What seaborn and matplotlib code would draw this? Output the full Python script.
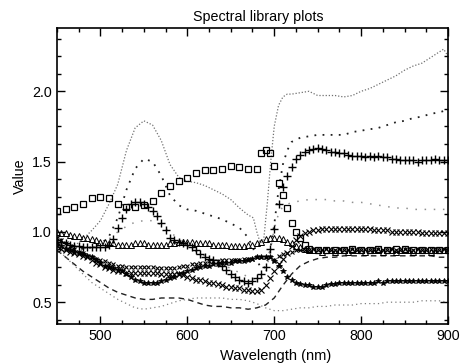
import numpy as np
import pandas as pd
import matplotlib
matplotlib.use("Agg")
import matplotlib.pyplot as plt
import seaborn as sns
from matplotlib.ticker import MultipleLocator

# ---------------- data ----------------
TITLE = "Spectral library plots"
XLABEL = "Wavelength (nm)"
YLABEL = "Value"

# fine dotted curve (green peak ~1.8, high NIR ~2.3)
wl_veg1 = [450,460,470,480,490,500,510,520,530,540,550,560,570,580,590,600,610,620,630,640,650,660,670,676,680,684,688,692,696,700,705,710,715,720,730,740,750,760,770,780,790,800,810,820,830,840,850,860,870,880,890,895,900]
val_veg1 = [0.86,0.87,0.90,0.95,1.01,1.08,1.20,1.34,1.58,1.74,1.79,1.76,1.65,1.48,1.39,1.36,1.35,1.33,1.30,1.27,1.23,1.17,1.12,1.10,1.00,0.92,0.95,1.20,1.50,1.75,1.90,1.96,1.98,1.98,1.99,2.00,1.97,1.97,1.97,1.96,1.97,2.00,2.02,2.05,2.08,2.11,2.15,2.18,2.20,2.24,2.28,2.30,2.25]

# larger-dot curve (peak ~1.5, NIR ~1.87)
wl_veg2 = [450,460,470,480,490,500,510,520,530,540,550,560,570,580,590,600,610,620,630,640,650,660,670,676,680,685,690,695,700,705,710,715,720,730,740,750,760,770,780,790,800,810,820,830,840,850,860,870,880,890,900]
val_veg2 = [0.90,0.89,0.88,0.88,0.89,0.91,0.97,1.10,1.30,1.45,1.52,1.50,1.40,1.26,1.19,1.16,1.15,1.13,1.11,1.09,1.06,1.03,0.96,0.88,0.80,0.74,0.75,0.86,1.05,1.30,1.48,1.58,1.64,1.67,1.68,1.69,1.69,1.69,1.69,1.71,1.72,1.73,1.74,1.76,1.78,1.79,1.81,1.82,1.84,1.85,1.87]

# sparse light dots (peak ~1.08, NIR ~1.2)
wl_veg3 = [450,460,470,480,490,500,510,520,530,540,550,560,570,580,590,600,610,620,630,640,650,660,670,680,685,690,695,700,705,710,720,730,740,750,760,770,780,790,800,810,820,830,840,850,860,870,880,890,900]
val_veg3 = [0.90,0.89,0.88,0.88,0.89,0.91,0.95,1.00,1.04,1.07,1.08,1.08,1.05,1.00,0.95,0.90,0.86,0.83,0.80,0.77,0.74,0.71,0.68,0.66,0.66,0.70,0.85,1.02,1.13,1.18,1.21,1.22,1.23,1.23,1.23,1.22,1.22,1.21,1.21,1.20,1.19,1.18,1.17,1.17,1.16,1.16,1.16,1.16,1.16]

# dashed curve
wl_dash = [450,460,470,480,490,500,510,520,530,540,550,560,570,580,590,600,610,620,630,640,650,660,670,680,690,700,710,720,730,740,750,760,770,780,790,800,810,820,830,840,850,860,870,880,890,900]
val_dash = [0.87,0.82,0.77,0.72,0.68,0.64,0.60,0.57,0.55,0.53,0.52,0.52,0.53,0.53,0.53,0.52,0.50,0.48,0.47,0.47,0.46,0.46,0.45,0.46,0.48,0.53,0.62,0.70,0.76,0.79,0.81,0.82,0.82,0.83,0.83,0.83,0.83,0.83,0.83,0.83,0.83,0.83,0.83,0.83,0.82,0.82]

# fine dotted low curve
wl_low = [450,460,470,480,490,500,510,520,530,540,550,560,570,580,590,600,610,620,630,640,650,660,670,680,690,700,710,720,730,740,750,760,770,780,790,800,810,820,830,840,850,860,870,880,890,900]
val_low = [0.88,0.82,0.76,0.70,0.64,0.60,0.56,0.52,0.49,0.46,0.45,0.46,0.47,0.49,0.51,0.52,0.53,0.53,0.53,0.53,0.52,0.52,0.51,0.49,0.46,0.44,0.44,0.45,0.46,0.46,0.47,0.47,0.48,0.48,0.48,0.49,0.49,0.49,0.50,0.50,0.50,0.50,0.51,0.51,0.51,0.50]

# open squares
wl_sq = [450,460,470,480,490,500,510,520,530,540,550,560,570,580,590,600,610,620,630,640,650,660,670,680,685,690,695,700,705,710,715,720,725,730,735,740,750,760,770,780,790,800,810,820,830,840,850,860,870,880,890,900]
val_sq = [1.15,1.16,1.18,1.20,1.24,1.25,1.24,1.20,1.18,1.18,1.19,1.22,1.28,1.33,1.36,1.38,1.42,1.44,1.44,1.45,1.47,1.46,1.45,1.45,1.56,1.58,1.56,1.47,1.35,1.26,1.17,1.06,1.00,0.96,0.91,0.88,0.87,0.87,0.87,0.87,0.88,0.87,0.87,0.88,0.87,0.88,0.88,0.87,0.87,0.87,0.87,0.87]

# dense wavelength grid (5 nm) for the marker chains
wl_5 = list(range(450, 905, 5))

# '+' markers
val_plus = [0.94,0.93,0.92,0.91,0.90,0.90,0.89,0.89,0.89,0.89,0.89,0.89,0.91,0.95,1.03,1.10,1.16,1.20,1.21,1.21,1.20,1.18,1.15,1.11,1.06,1.01,0.96,0.94,0.93,0.92,0.91,0.89,0.87,0.84,0.82,0.81,0.80,0.78,0.76,0.73,0.70,0.68,0.66,0.65,0.64,0.65,0.67,0.70,0.75,0.88,1.02,1.20,1.32,1.40,1.46,1.52,1.55,1.57,1.58,1.59,1.60,1.59,1.58,1.57,1.57,1.56,1.56,1.55,1.54,1.54,1.54,1.53,1.54,1.53,1.54,1.53,1.53,1.52,1.52,1.51,1.51,1.51,1.51,1.50,1.51,1.51,1.51,1.52,1.51,1.51,1.51]

# open triangles
val_tri = [1.00,0.99,0.99,0.98,0.97,0.97,0.96,0.96,0.95,0.94,0.93,0.93,0.92,0.92,0.91,0.91,0.91,0.91,0.92,0.92,0.92,0.91,0.91,0.91,0.91,0.91,0.92,0.92,0.93,0.93,0.93,0.93,0.92,0.92,0.92,0.92,0.91,0.91,0.91,0.91,0.90,0.90,0.90,0.90,0.91,0.91,0.92,0.93,0.95,0.96,0.96,0.96,0.95,0.93,0.92,0.90,0.89,0.88,0.87,0.87,0.87,0.86,0.87,0.87,0.86,0.87,0.87,0.86,0.87,0.87,0.87,0.86,0.87,0.87,0.87,0.86,0.87,0.87,0.86,0.87,0.87,0.87,0.86,0.87,0.87,0.87,0.86,0.87,0.87,0.87,0.87]

# dense small x chain (upper)
val_xu = [0.96,0.94,0.92,0.90,0.88,0.86,0.85,0.83,0.82,0.81,0.80,0.79,0.78,0.77,0.76,0.76,0.75,0.75,0.75,0.75,0.75,0.75,0.75,0.74,0.74,0.74,0.74,0.74,0.75,0.76,0.76,0.77,0.77,0.78,0.78,0.79,0.79,0.79,0.80,0.80,0.80,0.80,0.80,0.81,0.81,0.81,0.82,0.82,0.82,0.82,0.80,0.83,0.84,0.85,0.86,0.87,0.87,0.87,0.87,0.88,0.87,0.87,0.88,0.87,0.87,0.88,0.87,0.87,0.88,0.87,0.87,0.88,0.87,0.87,0.88,0.87,0.87,0.88,0.87,0.87,0.88,0.87,0.87,0.88,0.87,0.87,0.88,0.87,0.87,0.88,0.87]

# larger x chain (lower, rising to ~1.0)
val_xl = [0.90,0.88,0.87,0.86,0.85,0.84,0.83,0.82,0.80,0.78,0.77,0.75,0.74,0.73,0.72,0.72,0.71,0.71,0.71,0.71,0.71,0.71,0.71,0.71,0.70,0.70,0.70,0.70,0.70,0.69,0.68,0.67,0.66,0.66,0.65,0.64,0.64,0.63,0.62,0.61,0.61,0.60,0.60,0.59,0.59,0.58,0.58,0.59,0.62,0.67,0.72,0.77,0.81,0.85,0.90,0.94,0.97,0.99,1.00,1.01,1.01,1.02,1.02,1.02,1.02,1.02,1.02,1.02,1.02,1.02,1.02,1.02,1.02,1.01,1.01,1.01,1.01,1.00,1.00,1.00,1.00,1.00,1.00,1.00,0.99,0.99,0.99,0.99,0.99,0.99,0.99]

# dense dark chain (min ~0.62 after 740)
val_dark = [0.92,0.90,0.88,0.87,0.86,0.85,0.84,0.83,0.82,0.80,0.78,0.76,0.75,0.74,0.73,0.72,0.70,0.68,0.66,0.65,0.64,0.64,0.64,0.64,0.65,0.66,0.67,0.68,0.70,0.71,0.72,0.73,0.74,0.75,0.76,0.76,0.77,0.77,0.78,0.78,0.78,0.79,0.79,0.79,0.80,0.81,0.82,0.82,0.82,0.82,0.79,0.76,0.72,0.68,0.66,0.64,0.63,0.62,0.62,0.61,0.61,0.61,0.62,0.63,0.63,0.64,0.64,0.64,0.64,0.64,0.64,0.64,0.64,0.64,0.65,0.64,0.65,0.65,0.65,0.65,0.65,0.65,0.65,0.65,0.65,0.65,0.65,0.65,0.65,0.65,0.65]

# ---------------- plotting ----------------
sns.set_theme(style="white")
plt.rcParams["font.family"] = ["Liberation Sans", "DejaVu Sans"]
plt.rcParams["text.color"] = "black"
plt.rcParams["axes.labelcolor"] = "black"
plt.rcParams["xtick.color"] = "black"
plt.rcParams["ytick.color"] = "black"

fig = plt.figure(figsize=(4.61, 3.64), dpi=100)
ax = fig.add_axes([0.1236, 0.1099, 0.8482, 0.8131])

def line(wl, val, **kw):
    sns.lineplot(x=wl, y=val, ax=ax, sort=False, estimator=None, legend=False, **kw)

# dotted / dashed line series
line(wl_veg1, val_veg1, color="#707070", linewidth=0.9, linestyle=(0, (1, 1.5)))
line(wl_veg2, val_veg2, color="#202020", linewidth=1.3, linestyle=(0, (1, 3.5)))
line(wl_veg3, val_veg3, color="#909090", linewidth=1.1, linestyle=(0, (1, 5)))
line(wl_dash, val_dash, color="#202020", linewidth=1.0, linestyle=(0, (4, 3)))
line(wl_low, val_low, color="#808080", linewidth=0.9, linestyle=(0, (1, 2.5)))

# marker series
mk = dict(linestyle="none", color="black")
line(wl_sq, val_sq, marker="s", markersize=4.6, markerfacecolor="none",
     markeredgecolor="black", markeredgewidth=0.9, **mk)
line(wl_5, val_tri, marker="^", markersize=3.8, markerfacecolor="none",
     markeredgecolor="black", markeredgewidth=0.7, **mk)
line(wl_5, val_plus, marker="+", markersize=6, markeredgewidth=1.0,
     markeredgecolor="black", **mk)
line(wl_5, val_xu, marker="x", markersize=3.5, markeredgewidth=0.8,
     markeredgecolor="black", **mk)
line(wl_5, val_xl, marker="x", markersize=4.5, markeredgewidth=0.8,
     markeredgecolor="black", **mk)
line(wl_5, val_dark, marker="*", markersize=4, markeredgewidth=0.6,
     markeredgecolor="black", markerfacecolor="black", **mk)

ax.set_xlim(450, 900)
ax.set_ylim(0.345, 2.45)
ax.xaxis.set_major_locator(MultipleLocator(100))
ax.xaxis.set_minor_locator(MultipleLocator(25))
ax.yaxis.set_major_locator(MultipleLocator(0.5))
ax.yaxis.set_minor_locator(MultipleLocator(0.125))
ax.tick_params(which="both", direction="in", top=True, right=True,
               bottom=True, left=True, colors="black", labelsize=10.3)
ax.tick_params(which="major", length=6, width=1.0)
ax.tick_params(which="minor", length=3, width=1.0)
ax.yaxis.set_major_formatter(matplotlib.ticker.FormatStrFormatter("%.1f"))
for s in ax.spines.values():
    s.set_visible(True)
    s.set_color("black")
    s.set_linewidth(1.2)

ax.set_title(TITLE, fontsize=10.3, pad=5, color="black", x=0.515)
ax.set_xlabel(XLABEL, fontsize=10.5, labelpad=2, color="black")
ax.xaxis.set_label_coords(0.56, -0.085)
ax.set_ylabel(YLABEL, fontsize=10.3, labelpad=4, color="black")

fig.savefig("out.png", dpi=100)
